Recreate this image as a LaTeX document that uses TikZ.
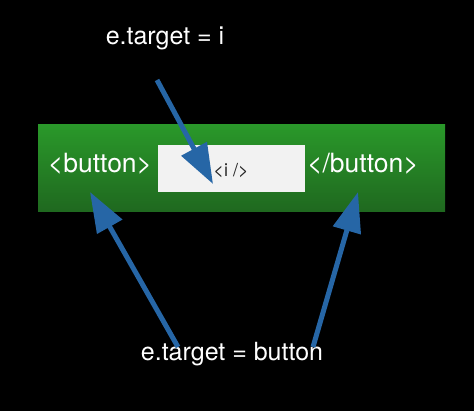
\documentclass[tikz,border=0pt]{standalone}
\usepackage{fontspec}
\setmainfont{TeX Gyre Heros}
\usetikzlibrary{arrows.meta}
\definecolor{arrowblue}{RGB}{38,102,166}
\definecolor{greentop}{RGB}{42,152,42}
\definecolor{greenbot}{RGB}{31,104,31}
\definecolor{boxwhite}{RGB}{242,242,242}
\begin{document}
\begin{tikzpicture}[x=1pt,y=-1pt,
  lbl/.style={text=white,font=\fontsize{25}{28}\selectfont,inner sep=0pt},
  ptr/.style={draw=arrowblue,line width=5pt,-{Triangle[length=40pt,width=28pt]}}]
\fill[black] (0,0) rectangle (474,411);
\useasboundingbox (0,0) rectangle (474,411);
\shade[top color=greentop,bottom color=greenbot] (38,125) rectangle (445,212);
\node[fill=boxwhite,minimum width=147pt,minimum height=47pt,inner sep=0pt] (ibox) at (231.5,168.5) {};
\node[inner sep=0pt,font=\fontsize{18}{20}\selectfont,text=black!85] (itext) at (231,171) {<i />};
\node[lbl,font=\fontsize{26.5}{30}\selectfont] (open) at (100,164) {<button>};
\node[lbl,font=\fontsize{26.5}{30}\selectfont] (close) at (363,164) {</button>};
\node[lbl] (ti) at (165,38) {e.target = i};
\node[lbl] (tb) at (232,354) {e.target = button};
\coordinate (s1) at (157,80);
\coordinate (e1) at (213,184);
\coordinate (s2) at (178,347);
\coordinate (e2) at (90,192);
\coordinate (s3) at (313,347);
\coordinate (e3) at (358,192);
\draw[ptr] (s1) -- (e1);
\draw[ptr] (s2) -- (e2);
\draw[ptr] (s3) -- (e3);
\end{tikzpicture}
\end{document}
